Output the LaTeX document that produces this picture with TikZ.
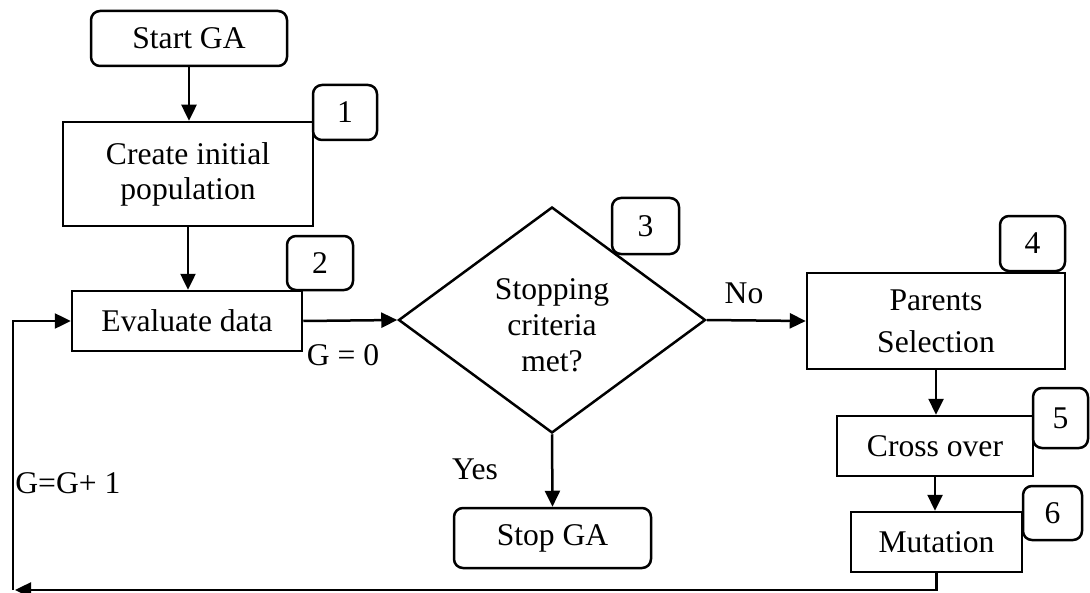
\documentclass[tikz,border=0pt]{standalone}
\usepackage{fontspec}
\setmainfont{Liberation Serif}
\usetikzlibrary{shapes.geometric,arrows.meta}
\begin{document}
\begin{tikzpicture}[x=0.5pt,y=-0.5pt,
  every node/.style={font=\fontsize{15.8}{18}\selectfont, inner sep=0pt},
  box/.style={draw, line width=1.25pt, align=center},
  rbox/.style={draw, line width=1.25pt, rounded corners=4.5pt, align=center},
  badge/.style={draw, line width=1.25pt, rounded corners=4.5pt, minimum width=32pt, minimum height=27.5pt},
  decision/.style={draw, line width=1.25pt, diamond, aspect=1.36, minimum width=153.5pt, minimum height=113pt, align=center},
  arr/.style={line width=1.25pt, -{Triangle[length=8pt,width=7.5pt]}}
]
\useasboundingbox (0,0) rectangle (1090,593);

% main nodes
\node[rbox, minimum width=98pt, minimum height=27.5pt] (start) at (189,38.5) {Start GA};
\node[box, minimum width=125pt, minimum height=52pt, font=\fontsize{15.8}{17.5}\selectfont] (create) at (188,174) {Create initial\\population};
\node[box, minimum width=115pt, minimum height=30pt] (eval) at (187,321) {Evaluate data};
\node[decision, label={[align=center, font=\fontsize{15.8}{18}\selectfont, yshift=-2.5pt]center:Stopping\\criteria\\met?}] (dec) at (552,320) {};
\node[box, minimum width=129pt, minimum height=48pt, font=\fontsize{15.8}{21}\selectfont] (parents) at (936,321) {Parents\\Selection};
\node[box, minimum width=98pt, minimum height=30pt] (cross) at (935,446) {Cross over};
\node[box, minimum width=85.5pt, minimum height=30pt] (mut) at (936.5,542) {Mutation};
\node[rbox, minimum width=98.5pt, minimum height=30pt] (stop) at (552.5,538) {Stop GA};

% badges
\node[badge] (b1) at (345,112.5) {1};
\node[badge, minimum width=33pt, minimum height=27pt] (b2) at (320,263) {2};
\node[badge, minimum width=33.5pt, minimum height=28pt] (b3) at (645.5,226) {3};
\node[badge, minimum width=32.5pt, minimum height=27.5pt] (b4) at (1032.5,243.5) {4};
\node[badge, minimum width=27.5pt, minimum height=30pt] (b5) at (1060.5,418) {5};
\node[badge, minimum width=29.5pt, minimum height=27pt] (b6) at (1052.5,513) {6};

% labels
\node (no) at (744,293) {No};
\node (yes) at (475,469) {Yes};
\node (g0) at (343,355) {G = 0};
\node[anchor=west] (ginc) at (15,483) {G=G+ 1};

% connectors
\coordinate (back) at (15,590);
\coordinate (corner) at (13,590);
\draw[arr] (start.south) -- (start.south |- create.north);
\draw[arr] (create.south) -- (create.south |- eval.north);
\draw[arr] (eval.east) -- (dec.west);
\draw[arr] (dec.east) -- (parents.west);
\draw[arr] (dec.south) -- (stop.north);
\draw[arr] (parents.south) -- (parents.south |- cross.north);
\draw[arr] (cross.south) -- (cross.south |- mut.north);
\draw[arr] (mut.south) |- (back);
\draw[arr] (corner) |- (eval.west);
\end{tikzpicture}
\end{document}
